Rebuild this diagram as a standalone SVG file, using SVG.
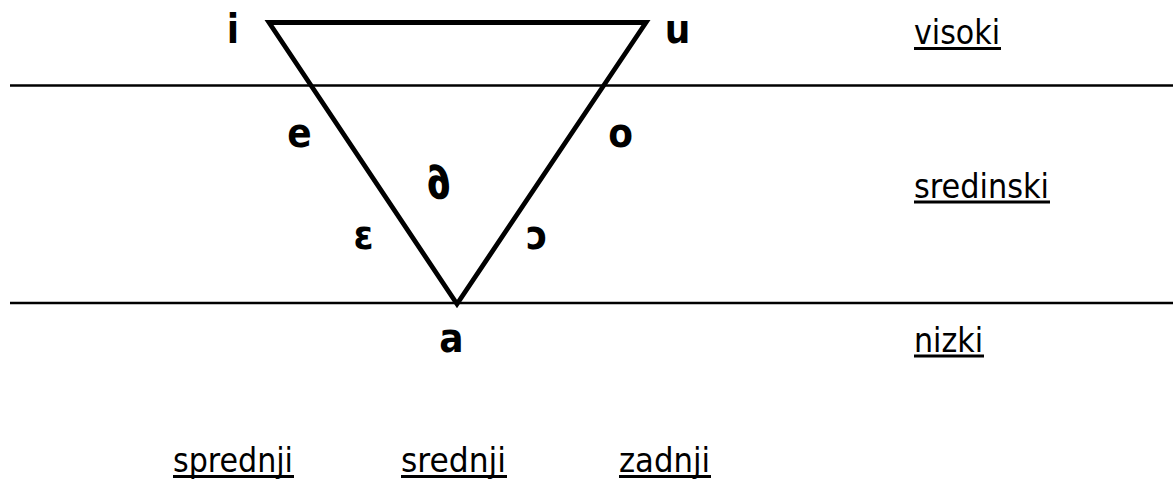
<svg xmlns="http://www.w3.org/2000/svg" width="1173" height="479" viewBox="0 0 1173 479">
<style>
.v{font-family:"DejaVu Sans Condensed","DejaVu Sans",Verdana,sans-serif;font-stretch:condensed;font-weight:bold;font-size:40px;fill:#000}
.s{font-family:"Liberation Sans",Arial,sans-serif;font-weight:bold;font-size:46px;fill:#000;stroke:#000;stroke-width:1.6}
.l{font-family:"DejaVu Sans Condensed","DejaVu Sans",Verdana,sans-serif;font-stretch:condensed;font-size:34px;fill:#000}
.u{stroke:#000;stroke-width:3.2}
.h{stroke:#000;stroke-width:2.5;fill:none}
</style>
<rect width="1173" height="479" fill="#fff"/>
<g id="connectors">
<line class="h" x1="10" y1="85.5" x2="1173" y2="85.5"/>
<line class="h" x1="10" y1="303" x2="1173" y2="303"/>
</g>
<g id="triangle"><polygon points="269,22.5 646,22.5 457,304" fill="none" stroke="#000" stroke-width="4.8" stroke-linejoin="miter"/></g>
<g id="vowels">
<text class="v" x="233" y="43" text-anchor="middle">i</text>
<text class="v" x="677.5" y="43" text-anchor="middle">u</text>
<text class="v" x="299.5" y="147" text-anchor="middle">e</text>
<text class="v" x="620.5" y="147" text-anchor="middle">o</text>
<text class="s" transform="translate(442,197.5) skewX(14)" x="0" y="0" text-anchor="middle">∂</text>
<text class="v" x="363.5" y="249" text-anchor="middle">ɛ</text>
<text class="v" x="537" y="249" text-anchor="middle">ɔ</text>
<text class="v" x="451.5" y="352" text-anchor="middle">a</text>
</g>
<g id="labels">
<text class="l" x="914" y="44" textLength="86" lengthAdjust="spacingAndGlyphs">visoki</text>
<line class="u" x1="914" y1="48.5" x2="1001" y2="48.5"/>
<text class="l" x="914" y="198" textLength="135" lengthAdjust="spacingAndGlyphs">sredinski</text>
<line class="u" x1="914" y1="202" x2="1050" y2="202"/>
<text class="l" x="914" y="352" textLength="69" lengthAdjust="spacingAndGlyphs">nizki</text>
<line class="u" x1="914" y1="356" x2="984" y2="356"/>
<text class="l" x="173" y="472" textLength="120" lengthAdjust="spacingAndGlyphs">sprednji</text>
<line class="u" x1="173" y1="476.5" x2="294" y2="476.5"/>
<text class="l" x="401" y="472" textLength="105" lengthAdjust="spacingAndGlyphs">srednji</text>
<line class="u" x1="401" y1="476.5" x2="507" y2="476.5"/>
<text class="l" x="619" y="472" textLength="91" lengthAdjust="spacingAndGlyphs">zadnji</text>
<line class="u" x1="619" y1="476.5" x2="711" y2="476.5"/>
</g>
</svg>
